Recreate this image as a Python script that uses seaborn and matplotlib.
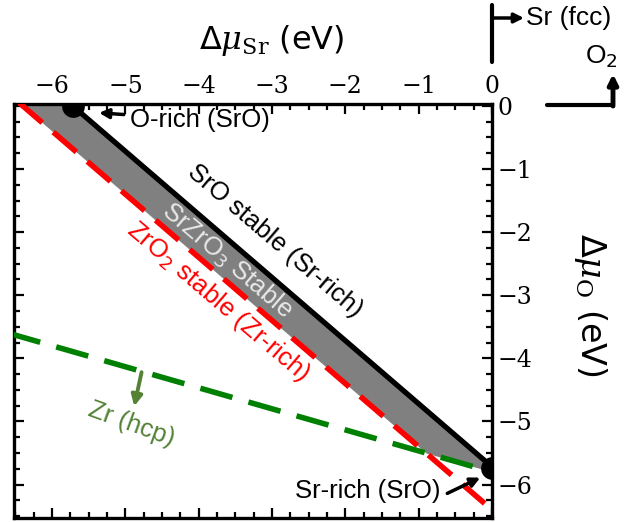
import numpy as np
import pandas as pd
import matplotlib
matplotlib.use("Agg")
import matplotlib.pyplot as plt
import seaborn as sns

# ---------------- data ----------------
sro_x = [-5.72, 0.0]            # SrO stable boundary (Sr-rich)
sro_y = [0.0, -5.72]
zro2_x = [-6.45, -0.10]         # ZrO2 stable boundary (Zr-rich)
zro2_y = [0.05, -6.30]
zr_x = [-6.60, -0.10]           # Zr (hcp) boundary
zr_y = [-3.60, -5.767]
fill_x = [-6.43, -5.75, -0.90, 0.0]      # SrZrO3 stable region
fill_upper = [0.03, 0.03, -4.82, -5.72]
fill_lower = [0.03, -0.65, -5.50, -5.80]
pts_x = [-5.72, 0.0]            # O-rich / Sr-rich points
pts_y = [0.0, -5.74]
xticks = [-6, -5, -4, -3, -2, -1, 0]
yticks = [-6, -5, -4, -3, -2, -1, 0]

sns.set_style("white")
plt.rcParams["font.family"] = ["Liberation Sans", "DejaVu Sans"]
plt.rcParams["mathtext.fontset"] = "dejavuserif"
for k in ["text.color", "axes.labelcolor", "xtick.color", "ytick.color"]:
    plt.rcParams[k] = "black"

W, H = 635, 522
fig = plt.figure(figsize=(W / 100, H / 100), dpi=100)
ax = fig.add_axes([14 / W, 4 / H, (492 - 14) / W, (518 - 104) / H])

ax.fill_between(fill_x, fill_lower, fill_upper, color="#808080", lw=0, zorder=1)
sns.lineplot(x=zro2_x, y=zro2_y, ax=ax, color="#ff0000", lw=4, linestyle=(0, (5.5, 2.6)), zorder=3)
sns.lineplot(x=zr_x, y=zr_y, ax=ax, color="#008000", lw=4, linestyle=(0, (6, 3)), zorder=3)
sns.lineplot(x=sro_x, y=sro_y, ax=ax, color="black", lw=3.8, zorder=4)
sns.scatterplot(x=pts_x, y=pts_y, ax=ax, color="black", s=230, edgecolor="black", zorder=5, clip_on=True)

ax.set_xlim(-6.52, 0.0)
ax.set_ylim(-6.53, 0.03)
ax.set_xticks(xticks)
ax.set_yticks(yticks)
ax.set_xticks(np.arange(-6.5, 0.01, 0.25), minor=True)
ax.set_yticks(np.arange(-6.5, 0.01, 0.25), minor=True)
ax.xaxis.tick_top()
ax.yaxis.tick_right()
ax.tick_params(which="both", direction="in", top=True, bottom=True, left=True, right=True,
               labeltop=True, labelbottom=False, labelright=True, labelleft=False, width=1.6)
ax.tick_params(which="major", length=7)
ax.tick_params(which="minor", length=4)
ax.tick_params(axis="x", which="major", pad=4)
ax.tick_params(axis="y", which="major", pad=4)
for lab in ax.get_xticklabels() + ax.get_yticklabels():
    lab.set_fontfamily("DejaVu Serif")
    lab.set_fontsize(17)
for sp in ax.spines.values():
    sp.set_linewidth(2.4)
    sp.set_color("black")

ax.xaxis.set_label_position("top")
ax.set_xlabel("Δ$\\mu_{\\mathrm{Sr}}$ (eV)", fontsize=23, family=["DejaVu Sans"])
ax.xaxis.label.set_va("center")
ax.xaxis.set_label_coords((272 - 14) / 478, (518 - 40) / 414)
ax.yaxis.set_label_position("right")
ax.set_ylabel("Δ$\\mu_{\\mathrm{O}}$ (eV)", fontsize=24, family=["DejaVu Sans"], rotation=270)
ax.yaxis.label.set_va("center")
ax.yaxis.label.set_ha("center")
ax.yaxis.set_label_coords((590 - 14) / 478, (518 - 305) / 414)

fs = 18.5
rot = -40.5
ax.annotate("O-rich (SrO)", xy=(-5.36, -0.11), xytext=(-4.94, -0.22), fontsize=fs,
            ha="left", va="center",
            arrowprops=dict(arrowstyle="-|>", color="black", lw=2.5, mutation_scale=14,
                            shrinkA=2, shrinkB=0))
ax.text(-2.96, -2.14, "SrO stable (Sr-rich)", rotation=rot, fontsize=fs, ha="center", va="center",
        rotation_mode="anchor", color="black")
ax.text(-3.62, -2.46, "SrZrO$_\\mathsf{3}$ Stable", rotation=rot, fontsize=fs, ha="center", va="center",
        rotation_mode="anchor", color="#e8e8e8")
ax.text(-3.74, -3.10, "ZrO$_\\mathsf{2}$ stable (Zr-rich)", rotation=rot, fontsize=fs, ha="center",
        va="center", rotation_mode="anchor", color="#ff0000")
ax.text(-4.92, -5.04, "Zr (hcp)", rotation=-20, fontsize=fs, ha="center", va="center",
        rotation_mode="anchor", color="#548235")
ax.annotate("", xy=(-4.88, -4.76), xytext=(-4.78, -4.22),
            arrowprops=dict(arrowstyle="-|>", color="#548235", lw=2.8, mutation_scale=16,
                            shrinkA=0, shrinkB=0))
ax.text(-2.69, -6.10, "Sr-rich (SrO)", fontsize=fs, ha="left", va="center", color="black")
ax.annotate("", xy=(-0.16, -5.89), xytext=(-0.61, -6.14),
            arrowprops=dict(arrowstyle="-|>", color="black", lw=2.5, mutation_scale=14,
                            shrinkA=0, shrinkB=0))

# direction guides (figure pixels, origin bottom-left)
fig.add_artist(plt.Line2D([492 / W, 492 / W], [(H - 5) / H, (H - 62) / H], color="black", lw=3,
                          transform=fig.transFigure))
fig.add_artist(plt.Line2D([547 / W, 613 / W], [(H - 105) / H, (H - 105) / H], color="black", lw=3,
                          transform=fig.transFigure))
ax.annotate("", xy=(524, H - 18), xytext=(492, H - 18), xycoords="figure pixels",
            textcoords="figure pixels",
            arrowprops=dict(arrowstyle="-|>", color="black", lw=2.5, mutation_scale=14,
                            shrinkA=0, shrinkB=0), annotation_clip=False)
ax.annotate("", xy=(613, H - 74), xytext=(613, H - 106), xycoords="figure pixels",
            textcoords="figure pixels",
            arrowprops=dict(arrowstyle="-|>", color="black", lw=3.5, mutation_scale=14,
                            shrinkA=0, shrinkB=0), annotation_clip=False)
fig.text(526 / W, (H - 18) / H, "Sr (fcc)", fontsize=19, ha="left", va="center")
fig.text(601 / W, (H - 57) / H, "O$_\\mathsf{2}$", fontsize=19, ha="center", va="center")

fig.savefig("out.png", dpi=100)
